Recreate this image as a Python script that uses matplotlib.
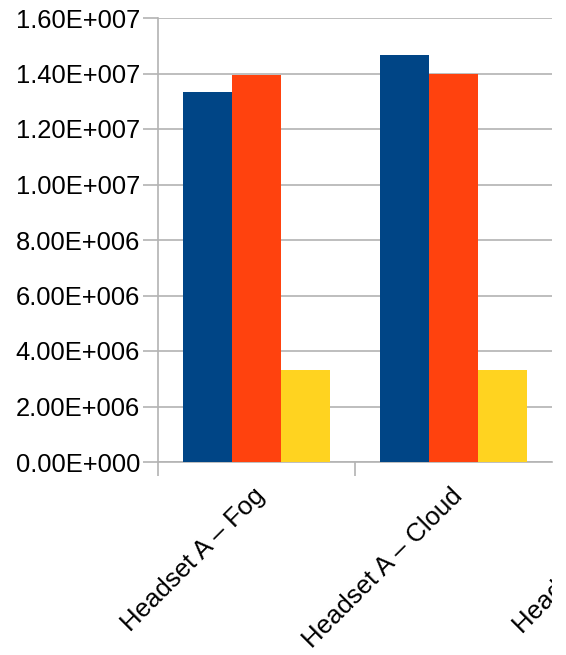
import numpy as np
import matplotlib
matplotlib.use("Agg")
import matplotlib.pyplot as plt
import matplotlib.transforms as mtransforms

# data (third group is cut off at the right edge)
categories = ["Headset A – Fog", "Headset A – Cloud", "Headset B – Fog"]
series_1 = [1.333e7, 1.467e7]
series_2 = [1.394e7, 1.400e7]
series_3 = [3.32e6, 3.32e6]
y_ticks = [0, 2e6, 4e6, 6e6, 8e6, 1e7, 1.2e7, 1.4e7, 1.6e7]

colors = ["#004586", "#ff420e", "#ffd320"]
grid_color = "#b3b3b3"

plt.rcParams["font.family"] = ["Liberation Sans", "DejaVu Sans"]

fig = plt.figure(figsize=(5.66, 6.55), dpi=100)
ax = fig.add_axes([158 / 566, 193 / 655, (552 - 158) / 566, (462 - 18) / 655])

x = np.arange(len(series_1))
w = 0.25
for i, vals in enumerate([series_1, series_2, series_3]):
    ax.bar(x + (i - 1) * w, vals, width=w, color=colors[i], zorder=3)

ax.set_xlim(-0.5, 1.5)
ax.set_ylim(0, 1.6e7)
ax.set_yticks(y_ticks)
ax.set_yticklabels([f"{v:.2E}".replace("E+0", "E+00") for v in y_ticks])
ax.yaxis.grid(True, color=grid_color, linewidth=1.2, zorder=0)

# category boundaries as major ticks, labels placed by hand
ax.set_xticks([-0.5, 0.5])
ax.set_xticklabels([])
ax.tick_params(axis="x", length=10, width=1.2, color=grid_color)
ax.tick_params(axis="y", length=11, width=1.2, color=grid_color,
               labelsize=18.4, pad=2)

for side in ["top", "right"]:
    ax.spines[side].set_visible(False)
ax.spines["left"].set_color(grid_color)
ax.spines["bottom"].set_color(grid_color)
ax.spines["left"].set_linewidth(1.2)
ax.spines["bottom"].set_linewidth(1.2)

# labels are cut where the chart area ends (x = 552 px)
clip = mtransforms.Bbox([[0, 0], [552, 655]])
offset = mtransforms.ScaledTranslation(0.05, -0.3, fig.dpi_scale_trans)
trans = ax.get_xaxis_transform() + offset
for i, lab in enumerate(categories):
    t = ax.text(i, 0, lab, transform=trans, rotation=45, ha="right",
                va="center", rotation_mode="anchor", fontsize=18.6)
    t.set_clip_box(clip)
    t.set_clip_on(True)

fig.savefig("out.png", dpi=100)
